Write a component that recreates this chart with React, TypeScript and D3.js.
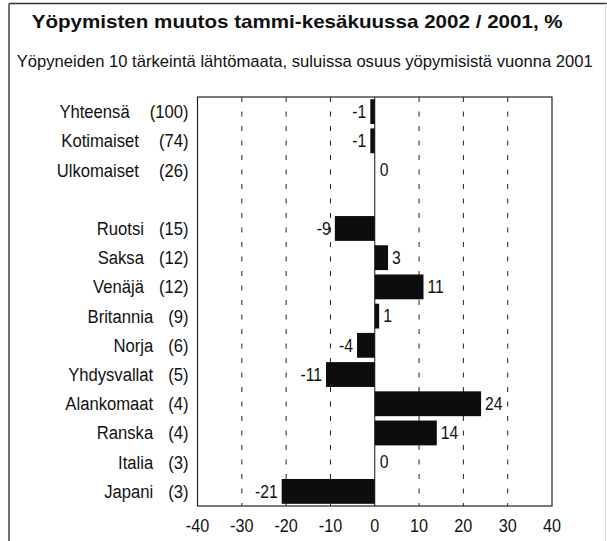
import React from "react";
import * as d3 from "d3";

const groupTop = ["Yhteensä", "Kotimaiset", "Ulkomaiset"];
const groupCountries = ["Ruotsi", "Saksa", "Venäjä", "Britannia", "Norja", "Yhdysvallat", "Alankomaat", "Ranska", "Italia", "Japani"];
const categories = [...groupTop, ...groupCountries];
const shares = [100, 74, 26, 15, 12, 12, 9, 6, 5, 4, 4, 3, 3];
const values = [-1, -1, 0, -9, 3, 11, 1, -4, -11, 24, 14, 0, -21];
const xTicks = [-40, -30, -20, -10, 0, 10, 20, 30, 40];
const gridTicks = [-30, -20, -10, 10, 20, 30];

const title = "Yöpymisten muutos tammi-kesäkuussa 2002 / 2001, %";
const subtitle = "Yöpyneiden 10 tärkeintä lähtömaata, suluissa osuus  yöpymisistä vuonna 2001";

const W = 607;
const H = 541;
const SANS = "'Liberation Sans', Arial, Helvetica, sans-serif";
const SX = 0.9;

function NText({ x, y, anchor, size, children }: { x: number; y: number; anchor: string; size: number; children: React.ReactNode }) {
  return (
    <g transform={`translate(${x},${y}) scale(${SX},1)`}>
      <text x={0} y={0} textAnchor={anchor as any} fontFamily={SANS} fontSize={size} fill="#111">
        {children}
      </text>
    </g>
  );
}

export default function App() {
  const plot = { left: 197.5, right: 552, top: 97, bottom: 506 };
  const domainY = [...groupTop, "__gap__", ...groupCountries];
  const x = d3.scaleLinear().domain([-40, 40]).range([plot.left, plot.right]);
  const y = d3
    .scaleBand<string>()
    .domain(domainY)
    .range([plot.top, plot.bottom])
    .paddingInner(0.15)
    .paddingOuter(0.075);
  const x0 = x(0);

  return (
    <svg
      width={W}
      height={H}
      viewBox={`0 0 ${W} ${H}`}
      style={{ position: "absolute", left: 0, top: 0, background: "#fff" }}
    >
      {/* outer frame */}
      <line x1={9} y1={3.5} x2={W} y2={3.5} stroke="#333" strokeWidth={1.5} />
      <line x1={9} y1={3.5} x2={9} y2={H} stroke="#444" strokeWidth={1.5} />
      <line x1={605.5} y1={3.5} x2={605.5} y2={H} stroke="#ddd" strokeWidth={1} />

      <text
        x={31.7}
        y={28}
        fontFamily={SANS}
        fontWeight="bold"
        fontSize={19}
        fill="#111"
        textLength={531}
        lengthAdjust="spacingAndGlyphs"
      >
        {title}
      </text>
      <text
        x={16.7}
        y={67}
        fontFamily={SANS}
        fontSize={17}
        fill="#111"
        textLength={576}
        lengthAdjust="spacingAndGlyphs"
      >
        {subtitle}
      </text>

      {/* grid */}
      {gridTicks.map((t) => (
        <line
          key={t}
          x1={x(t)}
          x2={x(t)}
          y1={plot.top}
          y2={plot.bottom}
          stroke="#222"
          strokeWidth={1}
          strokeDasharray="5,9.5"
        />
      ))}

      {/* bars */}
      {categories.map((c, i) => {
        const v = values[i];
        return (
          <rect
            key={c}
            x={Math.min(x(v), x0)}
            y={y(c)!}
            width={Math.abs(x(v) - x0)}
            height={y.bandwidth()}
            fill="#0d0d0d"
          />
        );
      })}

      {/* zero line */}
      <line x1={x0} x2={x0} y1={plot.top} y2={plot.bottom} stroke="#111" strokeWidth={1} />

      {/* plot frame */}
      <rect
        x={plot.left}
        y={plot.top}
        width={plot.right - plot.left}
        height={plot.bottom - plot.top}
        fill="none"
        stroke="#222"
        strokeWidth={1.2}
      />

      {/* value labels */}
      {categories.map((c, i) => {
        const v = values[i];
        const cy = y(c)! + y.bandwidth() / 2;
        const neg = v < 0;
        const tx = neg ? x(v) - 4 : v > 0 ? x(v) + 4 : x0 + 5;
        return (
          <NText key={c} x={tx} y={cy + 6.3} anchor={neg ? "end" : "start"} size={17.5}>
            {v}
          </NText>
        );
      })}

      {/* category labels */}
      {categories.map((c, i) => {
        const cy = y(c)! + y.bandwidth() / 2;
        const gap = (i < groupTop.length ? 20 : 15) / SX;
        return (
          <NText key={c} x={188.5} y={cy + 6.5} anchor="end" size={18.5}>
            {c}
            <tspan dx={gap}>{`(${shares[i]})`}</tspan>
          </NText>
        );
      })}

      {/* x axis labels */}
      {xTicks.map((t) => (
        <NText key={t} x={x(t)} y={532} anchor="middle" size={18}>
          {t}
        </NText>
      ))}
    </svg>
  );
}
